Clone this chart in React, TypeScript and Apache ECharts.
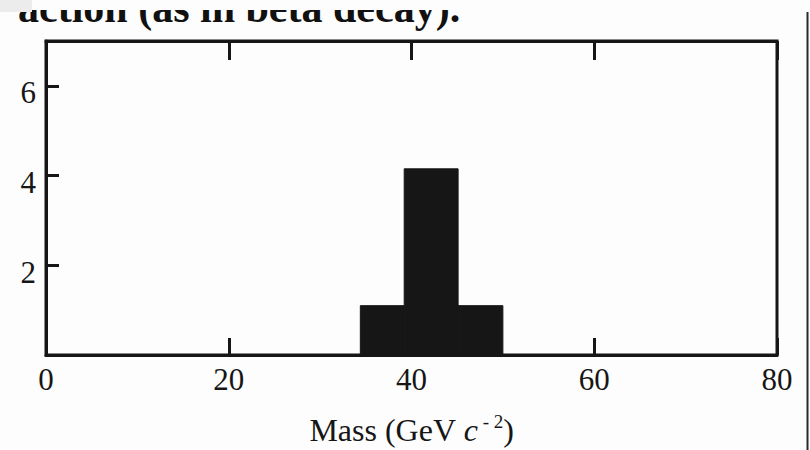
import React, { useEffect, useRef } from "react";
import * as echarts from "echarts";

// Histogram bins (GeV c^-2) and their counts
const binStarts = [34.4, 39.2, 45.1];
const binEnds = [39.2, 45.1, 50.0];
const counts = [1.1, 4.15, 1.1];

// Axis settings / tick labels
const xMin = 0;
const xMax = 80;
const xInterval = 20;
const yMin = 0;
const yMax = 7;
const yInterval = 2;
const yLabelValues = [2, 4, 6];

const xAxisTitle = "Mass (GeV {c|c}{sup| - 2})";
const captionText = "action (as in beta decay).";

const INK = "#161616";
const FONT = "'Liberation Serif', 'Times New Roman', serif";

export default function App() {
  const ref = useRef<HTMLDivElement>(null);

  useEffect(() => {
    if (!ref.current) return;
    const chart = echarts.init(ref.current, undefined, { renderer: "svg" });

    const data = binStarts.map((s, i) => [s, binEnds[i], counts[i]]);

    const option: any = {
      animation: false,
      backgroundColor: "#fdfdfd",
      grid: {
        left: 46,
        right: 33,
        top: 41,
        bottom: 95,
        outerBoundsMode: "none",
        containLabel: false,
        show: true,
        borderColor: INK,
        borderWidth: 3,
        backgroundColor: "transparent",
      },
      xAxis: [
        {
          type: "value",
          position: "bottom",
          min: xMin,
          max: xMax,
          interval: xInterval,
          splitLine: { show: false },
          axisLine: { show: true, lineStyle: { color: INK, width: 3 } },
          axisTick: { show: true, inside: true, length: 17, lineStyle: { color: INK, width: 3 } },
          axisLabel: {
            show: true,
            color: INK,
            fontFamily: FONT,
            fontSize: 31,
            margin: 9,
          },
          name: xAxisTitle,
          nameLocation: "middle",
          nameGap: 57,
          nameTextStyle: {
            color: INK,
            fontFamily: FONT,
            fontSize: 32,
            rich: {
              c: { fontFamily: FONT, fontSize: 32, fontStyle: "italic", color: INK },
              sup: { fontFamily: FONT, fontSize: 19, color: INK, padding: [0, 0, 16, 0] },
            },
          },
        },
        {
          type: "value",
          position: "top",
          min: xMin,
          max: xMax,
          interval: xInterval,
          splitLine: { show: false },
          axisLine: { show: true, lineStyle: { color: INK, width: 3 } },
          axisTick: { show: true, inside: true, length: 19, lineStyle: { color: INK, width: 3 } },
          axisLabel: { show: false },
        },
      ],
      yAxis: {
        type: "value",
        min: yMin,
        max: yMax,
        interval: yInterval,
        splitLine: { show: false },
        axisLine: { show: true, lineStyle: { color: INK, width: 3 } },
        axisTick: { show: true, inside: true, length: 13, lineStyle: { color: INK, width: 3 } },
        axisLabel: {
          show: true,
          color: INK,
          fontFamily: FONT,
          fontSize: 31,
          margin: 10,
          formatter: (v: number) => (yLabelValues.includes(v) ? `{v|${v}}` : ""),
          rich: {
            v: { fontFamily: FONT, fontSize: 31, color: INK, padding: [14, 0, 0, 0] },
          },
        },
      },
      series: [
        {
          type: "custom",
          xAxisIndex: 0,
          yAxisIndex: 0,
          data,
          renderItem: (params: any, api: any) => {
            const p0 = api.coord([api.value(0), api.value(2)]);
            const p1 = api.coord([api.value(1), 0]);
            return {
              type: "rect",
              shape: { x: p0[0], y: p0[1], width: p1[0] - p0[0], height: p1[1] - p0[1] },
              style: { fill: INK, stroke: INK, lineWidth: 1 },
            };
          },
          z: 1,
        },
      ],
      graphic: [
        {
          type: "text",
          left: 18,
          top: -13,
          style: {
            text: captionText,
            fill: "#111",
            font: `bold 42px ${FONT}`,
          },
          z: 10,
        },
        {
          type: "rect",
          shape: { x: 0, y: 0, width: 810, height: 10 },
          style: { fill: "#fdfdfd" },
          z: 11,
        },
        {
          type: "rect",
          shape: { x: 0, y: 0, width: 32, height: 12 },
          style: { fill: "#ececec" },
          z: 12,
        },
        {
          type: "line",
          shape: { x1: 807.5, y1: 12, x2: 807.5, y2: 450 },
          style: { stroke: "#2a2a2a", lineWidth: 2 },
          z: 12,
        },
      ],
    };

    chart.setOption(option);
    return () => chart.dispose();
  }, []);

  return (
    <div
      ref={ref}
      style={{ position: "fixed", left: 0, top: 0, width: 810, height: 450, background: "#fdfdfd" }}
    />
  );
}
